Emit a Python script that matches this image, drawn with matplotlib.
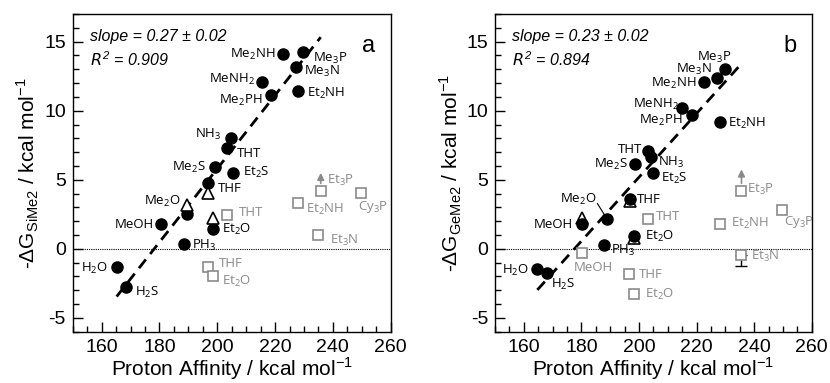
import matplotlib.pyplot as plt
from matplotlib.ticker import MultipleLocator

plt.rcParams['axes.unicode_minus'] = False

# ---- data: panel a (SiMe2) ----
a_names = ["Me2NH", "Me3P", "Me3N", "MeNH2", "Me2PH", "Et2NH", "NH3", "THT", "Me2S",
           "Et2S", "THF", "Me2O", "MeOH", "Et2O", "PH3", "H2O", "H2S"]
a_pa = [222.8, 229.7, 227.2, 215.5, 218.5, 228.0, 204.7, 203.5, 199.2,
        205.3, 196.9, 189.6, 180.7, 198.4, 188.6, 165.4, 168.4]
a_dg = [14.1, 14.25, 13.17, 12.1, 11.13, 11.44, 8.0, 7.28, 5.91,
        5.5, 4.78, 2.55, 1.78, 1.4, 0.38, -1.3, -2.79]
a_tri_pa = [196.9, 189.6, 198.4]
a_tri_dg = [4.04, 3.15, 2.26]
a_sq_names = ["Et3P", "Cy3P", "Et2NH", "THT", "Et3N", "THF", "Et2O"]
a_sq_pa = [235.8, 249.6, 228.0, 203.5, 234.9, 196.9, 198.4]
a_sq_dg = [4.18, 4.04, 3.32, 2.43, 1.03, -1.35, -1.95]
a_fit = (0.266, -47.4, 165.2, 235.8)  # slope, intercept, x from, x to

# ---- data: panel b (GeMe2) ----
b_names = ["Me3P", "Me3N", "Me2NH", "MeNH2", "Me2PH", "Et2NH", "THT", "NH3", "Me2S",
           "Et2S", "THF", "Me2O", "MeOH", "Et2O", "PH3", "H2O", "H2S"]
b_pa = [229.8, 227.2, 222.7, 215.1, 218.4, 228.0, 203.1, 204.3, 198.7,
        204.9, 196.9, 189.0, 180.3, 198.1, 187.9, 164.7, 167.9]
b_dg = [13.0, 12.4, 12.1, 10.2, 9.68, 9.17, 7.07, 6.66, 6.12,
        5.52, 3.63, 2.13, 1.82, 0.93, 0.3, -1.44, -1.76]
b_tri_pa = [196.9, 180.3, 198.1]
b_tri_dg = [3.45, 2.2, 0.76]
b_sq_names = ["Et3P", "Cy3P", "Et2NH", "THT", "Et3N", "MeOH", "THF", "Et2O"]
b_sq_pa = [235.6, 249.7, 228.0, 203.0, 235.3, 180.3, 196.6, 198.1]
b_sq_dg = [4.19, 2.84, 1.82, 2.18, -0.48, -0.31, -1.81, -3.26]
b_fit = (0.231, -41.02, 164.7, 235.6)

# label offsets in pixels (dx, dy, ha)
a_off = [(-8, 0, 'right'), (10, -6, 'left'), (8, -5, 'left'), (-7, 2, 'right'),
         (-8, -5, 'right'), (9, -3, 'left'), (-9, 4, 'right'), (9, -5, 'left'),
         (-9, 0, 'right'), (10, 0, 'left'), (10, -6, 'left'), (-7, 12, 'right'),
         (-8, 0, 'right'), (9, 0, 'left'), (8, -2, 'left'), (-9, -2, 'right'),
         (9, -5, 'left')]
a_sq_off = [(6, 11, 'left'), (-3, -14, 'left'), (8, -6, 'left'), (11, 3, 'left'),
            (12, -6, 'left'), (11, 4, 'left'), (9, -6, 'left')]
b_off = [(-11, 12, 'center'), (-6, 8, 'right'), (-8, -2, 'right'), (-3, 3, 'right'),
         (-9, -5, 'right'), (8, -1, 'left'), (-6, 2, 'right'), (7, -6, 'left'),
         (-7, 0, 'right'), (8, -6, 'left'), (7, -1, 'left'), (-11, 20, 'right'),
         (-9, -1, 'right'), (11, 0, 'left'), (7, -6, 'left'), (-8, -2, 'right'),
         (4, -11, 'left')]
b_sq_off = [(6, 1, 'left'), (2, -12, 'left'), (11, 0, 'left'), (8, 2, 'left'),
            (10, -1, 'left'), (11, -14, 'center'), (10, -1, 'left'), (11, -1, 'left')]

grey = '#8a8a8a'
lab_font = 'Open Sans'
ax_font = 'Liberation Sans'


def chem(s):
    # subscript the digits of a formula
    out = ''
    for c in s:
        out += r'$_\mathregular{%s}$' % c if c.isdigit() else c
    return out


fig = plt.figure(figsize=(8.3, 3.83), dpi=100)
ax1 = fig.add_axes([0.0876, 0.134, 0.3831, 0.8294])
ax2 = fig.add_axes([0.5964, 0.134, 0.3816, 0.8294])


def panel(ax, names, pa, dg, off, tri_pa, tri_dg, sq_names, sq_pa, sq_dg, sq_off,
          fit, sub, slope_txt, r2_txt, letter, circles_on_top):
    ax.axhline(0, color='black', lw=0.8, ls=(0, (1, 1)), zorder=1)
    s, b, x0, x1 = fit
    ax.plot([x0, x1], [s * x0 + b, s * x1 + b], color='black', lw=2,
            ls=(0, (4, 2.5)), zorder=2)
    ax.plot(sq_pa, sq_dg, ls='none', marker='s', ms=7, mfc='white', mec=grey,
            mew=1.2, zorder=3)
    z_tri = 3 if circles_on_top else 5
    ax.plot(tri_pa, tri_dg, ls='none', marker='^', ms=9, mfc='white', mec='black',
            mew=1.2, zorder=z_tri)
    ax.plot(pa, dg, ls='none', marker='o', ms=8, color='black', zorder=4)
    for n, x, y, (dx, dy, ha) in zip(names, pa, dg, off):
        ax.annotate(chem(n), (x, y), xytext=(dx, dy), textcoords='offset pixels',
                    ha=ha, va='center', fontsize=9.5, family=lab_font, zorder=6)
    for n, x, y, (dx, dy, ha) in zip(sq_names, sq_pa, sq_dg, sq_off):
        ax.annotate(chem(n), (x, y), xytext=(dx, dy), textcoords='offset pixels',
                    ha=ha, va='center', fontsize=9.5, family=lab_font, color=grey,
                    zorder=6)
    ax.set_xlim(150, 260)
    ax.set_ylim(-6, 17)
    ax.xaxis.set_major_locator(MultipleLocator(20))
    ax.xaxis.set_minor_locator(MultipleLocator(5))
    ax.yaxis.set_major_locator(MultipleLocator(5))
    ax.yaxis.set_minor_locator(MultipleLocator(1))
    ax.tick_params(which='both', direction='in', top=False, right=False, width=1)
    ax.tick_params(which='major', length=7, labelsize=14, pad=5)
    ax.tick_params(which='minor', length=4)
    for lab in ax.get_xticklabels() + ax.get_yticklabels():
        lab.set_family(ax_font)
    for sp in ax.spines.values():
        sp.set_linewidth(1)
    ax.set_xlabel(r'Proton Affinity / kcal mol$^\mathregular{-1}$', fontsize=15,
                  family=ax_font, labelpad=0)
    ax.set_ylabel(r'-ΔG$_\mathregular{%s}$ / kcal mol$^\mathregular{-1}$' % sub,
                  fontsize=15, family=ax_font, labelpad=2)
    ax.text(0.055, 0.93, slope_txt, transform=ax.transAxes, style='italic',
            fontsize=11.5, family=ax_font, va='center')
    ax.text(0.055, 0.855, r2_txt, transform=ax.transAxes, style='italic',
            fontsize=11.5, family=ax_font, va='center')
    ax.text(0.93, 0.9, letter, transform=ax.transAxes, fontsize=17,
            family=ax_font, ha='center', va='center')


panel(ax1, a_names, a_pa, a_dg, a_off, a_tri_pa, a_tri_dg, a_sq_names, a_sq_pa,
      a_sq_dg, a_sq_off, a_fit, 'SiMe2', 'slope = 0.27 ± 0.02',
      r'$\mathit{R}^\mathregular{2}$ = 0.909', 'a', False)
panel(ax2, b_names, b_pa, b_dg, b_off, b_tri_pa, b_tri_dg, b_sq_names, b_sq_pa,
      b_sq_dg, b_sq_off, b_fit, 'GeMe2', 'slope = 0.23 ± 0.02',
      r'$\mathit{R}^\mathregular{2}$ = 0.894', 'b', True)

# Et3P lower-limit arrows
ax1.annotate('', xy=(a_sq_pa[0], 5.7), xytext=(a_sq_pa[0], a_sq_dg[0] + 0.35),
             arrowprops=dict(arrowstyle='-|>', color=grey, lw=1.2, mutation_scale=10))
ax2.annotate('', xy=(b_sq_pa[0], 5.95), xytext=(b_sq_pa[0], b_sq_dg[0] + 0.35),
             arrowprops=dict(arrowstyle='-|>', color=grey, lw=1.2, mutation_scale=10))
# Et3N lower error bar in panel b
ax2.errorbar([b_sq_pa[4]], [b_sq_dg[4]], yerr=[[0.8], [0]], fmt='none',
             ecolor='black', elinewidth=1, capsize=4, zorder=2)
# leader line for Me2O in panel b
ax2.annotate('', xy=(b_pa[11], b_dg[11]), xytext=(-10, 16), textcoords='offset pixels',
             arrowprops=dict(arrowstyle='-', color='black', lw=0.8, shrinkA=0, shrinkB=3))

fig.savefig('out.png', dpi=100)
